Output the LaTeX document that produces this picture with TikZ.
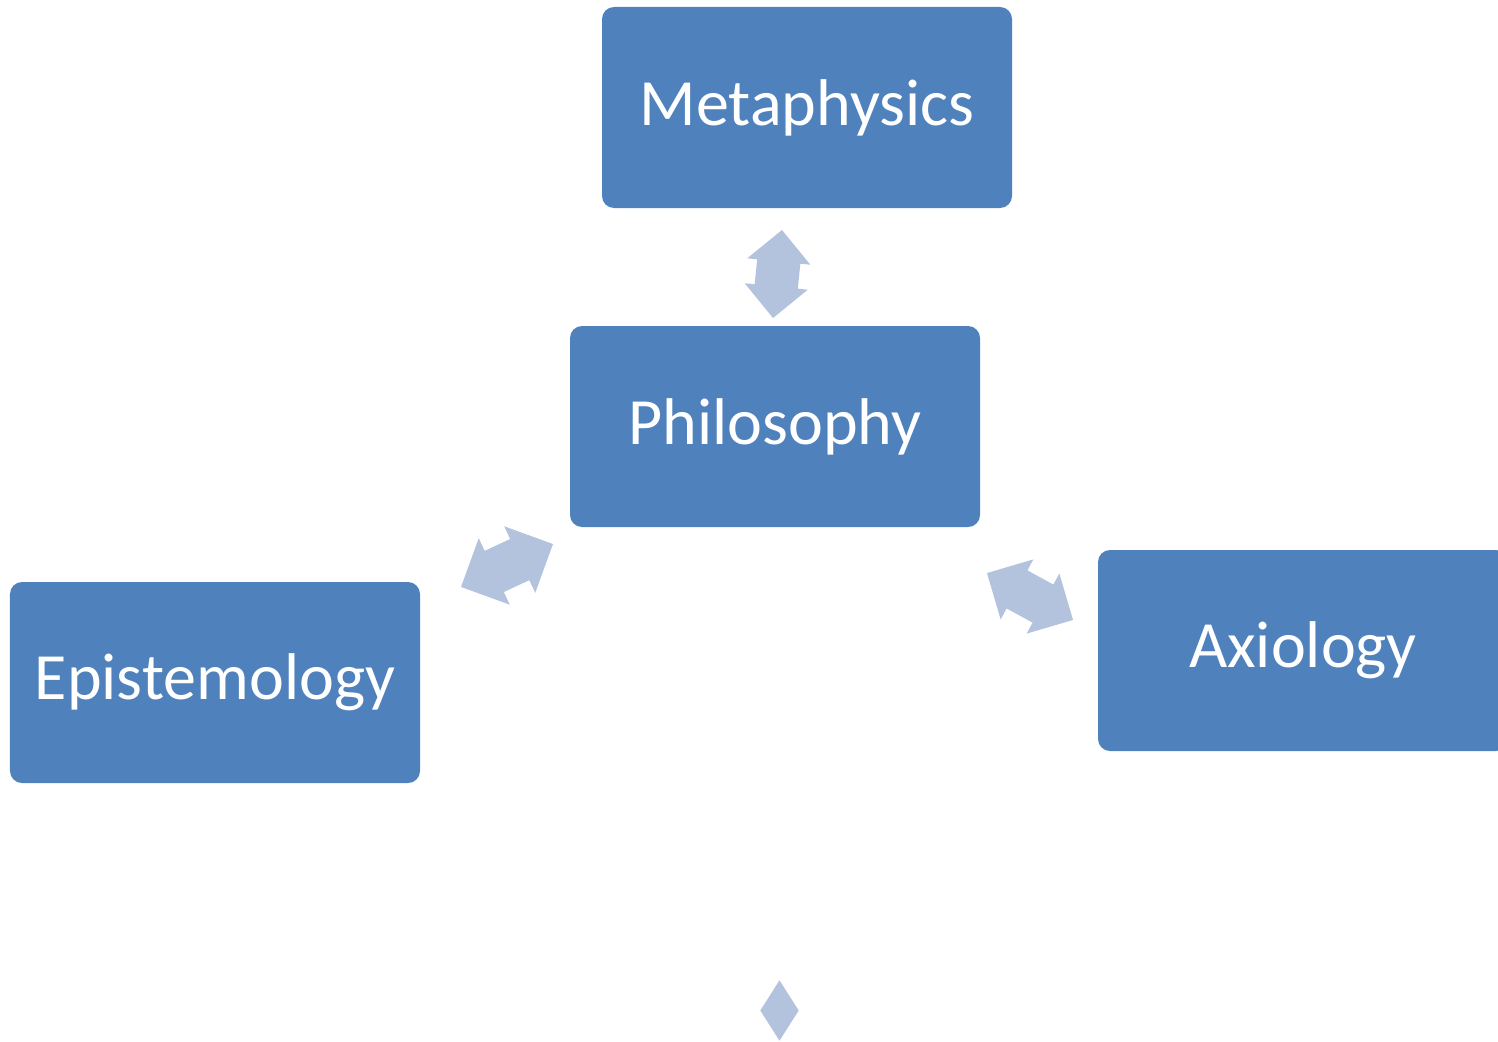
\documentclass[tikz,border=0pt]{standalone}
\usepackage{fontspec}
\setmainfont{Carlito}
\usetikzlibrary{shapes.arrows,shapes.geometric}

\definecolor{boxblue}{HTML}{4F81BD}
\definecolor{linkblue}{HTML}{B4C3DD}

\def\boxwidth{4.1cm}
\def\boxheight{2.01cm}

\begin{document}
\begin{tikzpicture}
	\tikzstyle{topic}=[rectangle,rounded corners=0.12cm,fill=boxblue,text=white,minimum width=\boxwidth,minimum height=\boxheight,inner sep=0pt,font=\fontsize{18.8}{22}\selectfont]
	\tikzstyle{link}=[double arrow,fill=linkblue,inner xsep=0pt,double arrow tip angle=90]
	
	\clip (0,0) rectangle (14.98,10.41);
	
	% Draw the topic boxes
	\node[topic] (meta) at (8.07,9.335) {Metaphysics};
	\node[topic] (phil) at (7.75,6.145) {Philosophy};
	\node[topic] (epis) at (2.15,3.585) {Epistemology};
	\node[topic] (axio) at (13.03,3.905) {Axiology};
	
	% Draw the links between Philosophy and the other topics
	\node[link, minimum height=0.885cm, inner ysep=0.21cm, double arrow head extend=0.1cm, rotate=84.2] (meta-link) at (7.775,7.67) {};
	\node[link, minimum height=1.015cm, inner ysep=0.22cm, double arrow head extend=0.14cm, rotate=25] (epis-link) at (5.07,4.755) {};
	\node[link, minimum height=0.98cm, inner ysep=0.21cm, double arrow head extend=0.125cm, rotate=-28.6] (axio-link) at (10.30,4.445) {};
	
	% Head of the link below, cut off by the page
	\node[diamond, fill=linkblue, inner sep=0pt, minimum width=0.39cm, minimum height=0.61cm] (low-link) at (7.795,0.305) {};
	
\end{tikzpicture}
\end{document}
